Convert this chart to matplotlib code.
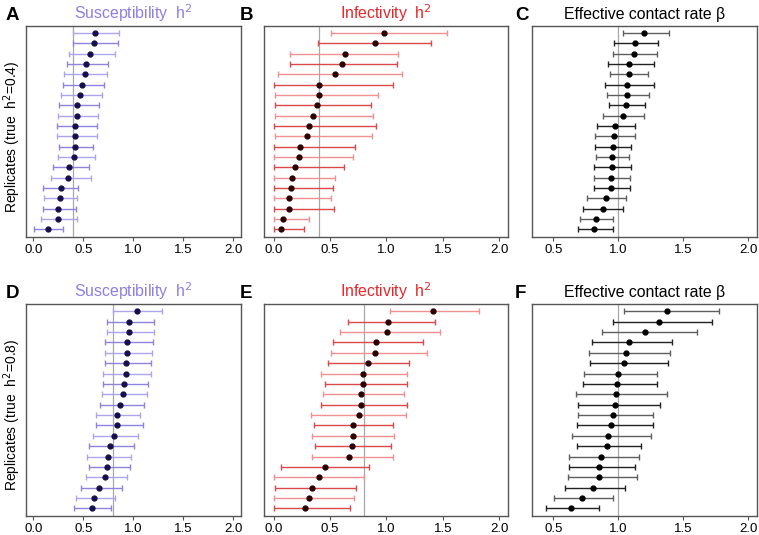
import matplotlib
matplotlib.use("Agg")
import matplotlib.pyplot as plt
import numpy as np

plt.rcParams['font.family'] = ['Liberation Sans', 'DejaVu Sans']

# Panel A: susceptibility h2, true 0.4 (top to bottom)
A_est = [0.617, 0.61, 0.567, 0.527, 0.513, 0.487, 0.467, 0.437, 0.433, 0.42,
         0.417, 0.413, 0.41, 0.36, 0.35, 0.273, 0.267, 0.25, 0.25, 0.143]
A_lo = [0.40, 0.40, 0.36, 0.333, 0.307, 0.30, 0.28, 0.253, 0.25, 0.233,
        0.24, 0.253, 0.247, 0.193, 0.173, 0.10, 0.107, 0.10, 0.08, 0.01]
A_hi = [0.86, 0.85, 0.817, 0.75, 0.733, 0.707, 0.687, 0.653, 0.65, 0.64,
        0.633, 0.60, 0.617, 0.56, 0.573, 0.45, 0.44, 0.427, 0.44, 0.293]

# Panel B: infectivity h2, true 0.4
B_est = [0.982, 0.894, 0.631, 0.602, 0.543, 0.401, 0.398, 0.386, 0.351, 0.313,
         0.298, 0.233, 0.227, 0.192, 0.159, 0.156, 0.139, 0.133, 0.080, 0.068]
B_lo = [0.507, 0.392, 0.142, 0.142, 0.035, 0.006, 0.012, 0.012, 0.009, 0.006,
        0.009, 0.0, 0.0, 0.0, 0.0, 0.0, 0.0, 0.0, 0.0, 0.0]
B_hi = [1.534, 1.392, 1.106, 1.097, 1.136, 1.062, 0.923, 0.867, 0.879, 0.909,
        0.870, 0.720, 0.702, 0.619, 0.540, 0.522, 0.507, 0.531, 0.313, 0.265]

# Panel C: effective contact rate beta, true 1.0
C_est = [1.197, 1.128, 1.121, 1.085, 1.079, 1.069, 1.064, 1.059, 1.038, 0.974,
         0.964, 0.956, 0.951, 0.951, 0.946, 0.946, 0.908, 0.879, 0.828, 0.815]
C_lo = [1.038, 0.969, 0.962, 0.918, 0.938, 0.895, 0.910, 0.928, 0.879, 0.833,
        0.818, 0.823, 0.828, 0.815, 0.815, 0.810, 0.762, 0.726, 0.705, 0.690]
C_hi = [1.392, 1.303, 1.295, 1.274, 1.231, 1.274, 1.238, 1.205, 1.197, 1.126,
        1.131, 1.100, 1.085, 1.100, 1.087, 1.090, 1.062, 1.033, 0.962, 0.962]

# Panel D: susceptibility h2, true 0.8
D_est = [1.033, 0.957, 0.957, 0.937, 0.937, 0.927, 0.923, 0.903, 0.897, 0.867,
         0.84, 0.837, 0.803, 0.767, 0.747, 0.74, 0.717, 0.657, 0.607, 0.583]
D_lo = [0.80, 0.733, 0.733, 0.717, 0.713, 0.72, 0.70, 0.70, 0.687, 0.663,
        0.623, 0.627, 0.593, 0.56, 0.54, 0.553, 0.523, 0.473, 0.43, 0.403]
D_hi = [1.287, 1.21, 1.21, 1.197, 1.19, 1.18, 1.18, 1.143, 1.14, 1.11,
        1.063, 1.093, 1.047, 1.003, 0.98, 0.97, 0.933, 0.887, 0.82, 0.78]

# Panel E: infectivity h2, true 0.8
E_est = [1.410, 1.015, 1.003, 0.906, 0.900, 0.832, 0.796, 0.796, 0.773, 0.773,
         0.755, 0.705, 0.702, 0.690, 0.667, 0.457, 0.398, 0.339, 0.316, 0.277]
E_lo = [1.027, 0.655, 0.590, 0.522, 0.507, 0.481, 0.422, 0.454, 0.437, 0.419,
        0.333, 0.360, 0.339, 0.366, 0.339, 0.065, 0.006, 0.009, 0.006, 0.006]
E_hi = [1.823, 1.428, 1.475, 1.327, 1.357, 1.204, 1.180, 1.183, 1.159, 1.180,
        1.177, 1.062, 1.071, 1.044, 1.056, 0.841, 0.805, 0.726, 0.714, 0.678]

# Panel F: effective contact rate beta, true 1.0
F_est = [1.377, 1.310, 1.203, 1.082, 1.059, 1.046, 0.995, 0.987, 0.979, 0.974,
         0.956, 0.944, 0.918, 0.910, 0.869, 0.854, 0.854, 0.805, 0.723, 0.633]
F_lo = [1.041, 0.962, 0.872, 0.795, 0.777, 0.782, 0.736, 0.726, 0.674, 0.692,
        0.687, 0.679, 0.646, 0.679, 0.623, 0.623, 0.610, 0.590, 0.508, 0.441]
F_hi = [1.774, 1.723, 1.603, 1.415, 1.400, 1.379, 1.300, 1.295, 1.372, 1.323,
        1.264, 1.267, 1.249, 1.177, 1.162, 1.131, 1.146, 1.051, 0.962, 0.854]

W, H = 759, 535
fig = plt.figure(figsize=(W / 100, H / 100), dpi=100)

def rect(x0, y0, x1, y1):
    return [x0 / W, 1 - y1 / H, (x1 - x0) / W, (y1 - y0) / H]

cols_x = [(25.7, 240.7), (264, 508.3), (531.7, 756.7)]
rows_y = [(25.7, 236.7), (304, 515.7)]
xlims = [(-0.076, 2.074), (-0.086, 2.08), (0.334, 2.065)]
xticks = [[0.0, 0.5, 1.0, 1.5, 2.0], [0.0, 0.5, 1.0, 1.5, 2.0], [0.5, 1.0, 1.5, 2.0]]
letter_x = [6, 239.5, 515]

sus_bar = ['#aca5ee', '#8d84de']
inf_bar = ['#f29090', '#da4a4a']
beta_bar = ['#5e5e5e', '#222222']
styles = [
    ("Susceptibility  h$^2$", '#8c7fe0', sus_bar, '#15104a'),
    ("Infectivity  h$^2$", '#e8262a', inf_bar, '#2a0000'),
    ("Effective contact rate β", '#000000', beta_bar, '#000000'),
]
data = [
    [(A_est, A_lo, A_hi), (B_est, B_lo, B_hi), (C_est, C_lo, C_hi)],
    [(D_est, D_lo, D_hi), (E_est, E_lo, E_hi), (F_est, F_lo, F_hi)],
]
truth = [[0.4, 0.4, 1.0], [0.8, 0.8, 1.0]]
letters = [["A", "B", "C"], ["D", "E", "F"]]
ylabels = ["Replicates (true  h$^2$=0.4)", "Replicates (true  h$^2$=0.8)"]

for r in range(2):
    for c in range(3):
        x0, x1 = cols_x[c]
        y0, y1 = rows_y[r]
        ax = fig.add_axes(rect(x0, y0, x1, y1))
        est, lo, hi = data[r][c]
        title, tcol, barcols, ptcol = styles[c]
        n = len(est)
        ys = np.arange(n, 0, -1)
        ax.axvline(truth[r][c], color='#a8a8a8', lw=0.9, zorder=1)
        for i in range(n):
            bc = barcols[i % 2]
            ax.plot([lo[i], hi[i]], [ys[i], ys[i]], color=bc, lw=1.0, zorder=2,
                    solid_capstyle='butt')
            for xv in (lo[i], hi[i]):
                ax.plot([xv, xv], [ys[i] - 0.29, ys[i] + 0.29], color=bc, lw=1.0,
                        zorder=2, solid_capstyle='butt')
        ax.plot(est, ys, 'o', color=ptcol, ms=3.5, zorder=3)
        ax.set_xlim(*xlims[c])
        ax.set_ylim(0.3, 20.7)
        ax.set_xticks(xticks[c])
        ax.set_xticklabels([f"{t:.1f}" for t in xticks[c]], fontsize=9.5)
        ax.set_yticks([])
        ax.tick_params(axis='x', direction='out', length=3, width=0.8,
                       color='#555555', pad=2)
        for s in ax.spines.values():
            s.set_color('#555555')
            s.set_linewidth(1.0)
        ax.set_title(title, color=tcol, fontsize=11.4, pad=5)
        fig.text(letter_x[c] / W, 1 - (y0 - 2) / H, letters[r][c],
                 fontsize=13.5, fontweight='bold', ha='left', va='bottom')
        if c == 0:
            fig.text(12.5 / W, 1 - (y0 + 111) / H, ylabels[r], fontsize=10,
                     rotation=90, ha='center', va='center')

fig.savefig("out.png", dpi=100)
